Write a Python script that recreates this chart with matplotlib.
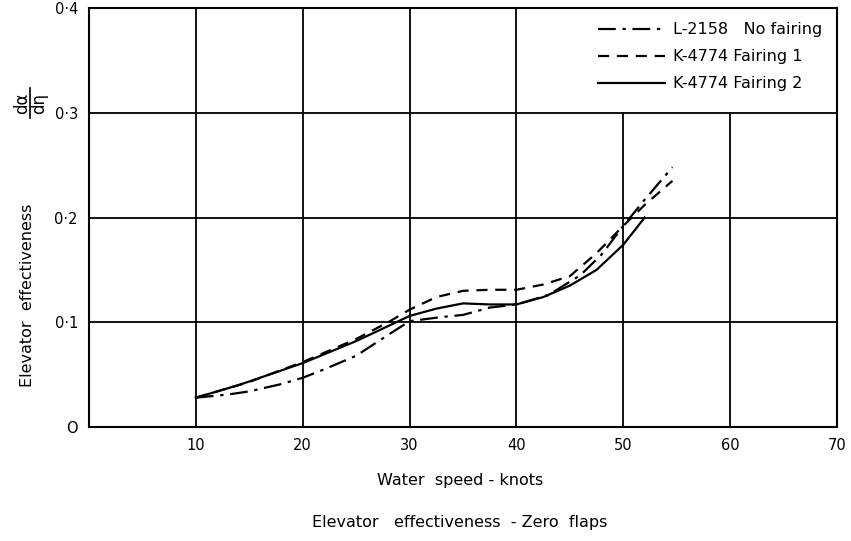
import matplotlib
matplotlib.use('Agg')
import matplotlib.pyplot as plt
from matplotlib.lines import Line2D
import numpy as np

matplotlib.rcParams.update({'font.size': 11, 'font.family': 'DejaVu Sans'})

# L-2158 No fairing (dash-dot)
speed_nofair = [10, 13, 15, 18, 20, 22, 25, 28, 30, 33, 35, 37.5, 40, 43, 46, 48, 50, 52, 54.6]
eff_nofair = [0.028, 0.031, 0.034, 0.041, 0.047, 0.055, 0.068, 0.088, 0.101, 0.105, 0.107, 0.114,
              0.117, 0.126, 0.145, 0.165, 0.192, 0.217, 0.248]

# K-4774 Fairing 1 (dashed)
speed_fair1 = [10, 15, 20, 25, 28, 30, 32.5, 35, 37.5, 40, 42.5, 45, 47.5, 50, 52, 54.6]
eff_fair1 = [0.028, 0.043, 0.062, 0.084, 0.100, 0.112, 0.124, 0.130, 0.131, 0.131, 0.136,
             0.144, 0.166, 0.192, 0.212, 0.235]

# K-4774 Fairing 2 (solid)
speed_fair2 = [10, 14, 20, 25, 30, 32.5, 35, 37.5, 40, 42.5, 45, 47.5, 50, 52]
eff_fair2 = [0.028, 0.040, 0.061, 0.082, 0.106, 0.113, 0.118, 0.117, 0.117, 0.124, 0.135,
             0.150, 0.174, 0.200]

x_ticks = [10, 20, 30, 40, 50, 60, 70]
y_ticks = [0, 0.1, 0.2, 0.3, 0.4]
y_ticklabels = ['O', '0·1', '0·2', '0·3', '0·4']

fig = plt.figure(figsize=(8.51, 5.41), dpi=100)
fig.patch.set_facecolor('white')
ax = fig.add_axes([89/851, 1 - 427/541, (837 - 89)/851, (427 - 8)/541])

ax.set_xlim(0, 70)
ax.set_ylim(0, 0.4)

# grid: vertical lines at 50 and 60 stop at 0.3 (legend cell)
for xv in x_ticks[:-1]:
    top = 0.3 if xv >= 50 else 0.4
    ax.plot([xv, xv], [0, top], color='black', lw=1.3, zorder=1)
for yv in y_ticks[1:-1]:
    ax.axhline(yv, color='black', lw=1.3, zorder=1)

ax.plot(speed_nofair, eff_nofair, color='black', lw=1.6, linestyle=(0, (8, 3, 1.5, 3)),
        label='L-2158   No fairing')
ax.plot(speed_fair1, eff_fair1, color='black', lw=1.6, linestyle=(0, (5, 3.5)),
        label='K-4774 Fairing 1')
ax.plot(speed_fair2, eff_fair2, color='black', lw=1.6, linestyle='-',
        label='K-4774 Fairing 2')

for s in ax.spines.values():
    s.set_linewidth(1.5)

ax.set_xticks(x_ticks)
ax.set_yticks(y_ticks)
ax.set_yticklabels(y_ticklabels)
ax.tick_params(length=0, pad=8, labelsize=10.5)

leg = ax.legend(loc='upper right', frameon=False, handlelength=4.2, fontsize=11.5,
                labelspacing=0.75, borderaxespad=0.5, handletextpad=0.5)

fig.text(28/851, 1 - 295/541, 'Elevator  effectiveness', rotation=90,
         ha='center', va='center', fontsize=11.5)

# d alpha / d eta, written sideways like the y label
fig.text(22/851, 1 - 103/541, 'dα', rotation=90, ha='center', va='center', fontsize=12)
fig.text(39/851, 1 - 103/541, 'dη', rotation=90, ha='center', va='center', fontsize=12)
fig.add_artist(Line2D([30/851, 30/851], [1 - 118/541, 1 - 88/541], color='black', lw=1.2))

fig.text(460/851, 1 - 480/541, 'Water  speed - knots', ha='center', va='center', fontsize=11.5)
fig.text(460/851, 1 - 523/541, 'Elevator   effectiveness  - Zero  flaps',
         ha='center', va='center', fontsize=11.5)

fig.savefig('out.png', dpi=100)
